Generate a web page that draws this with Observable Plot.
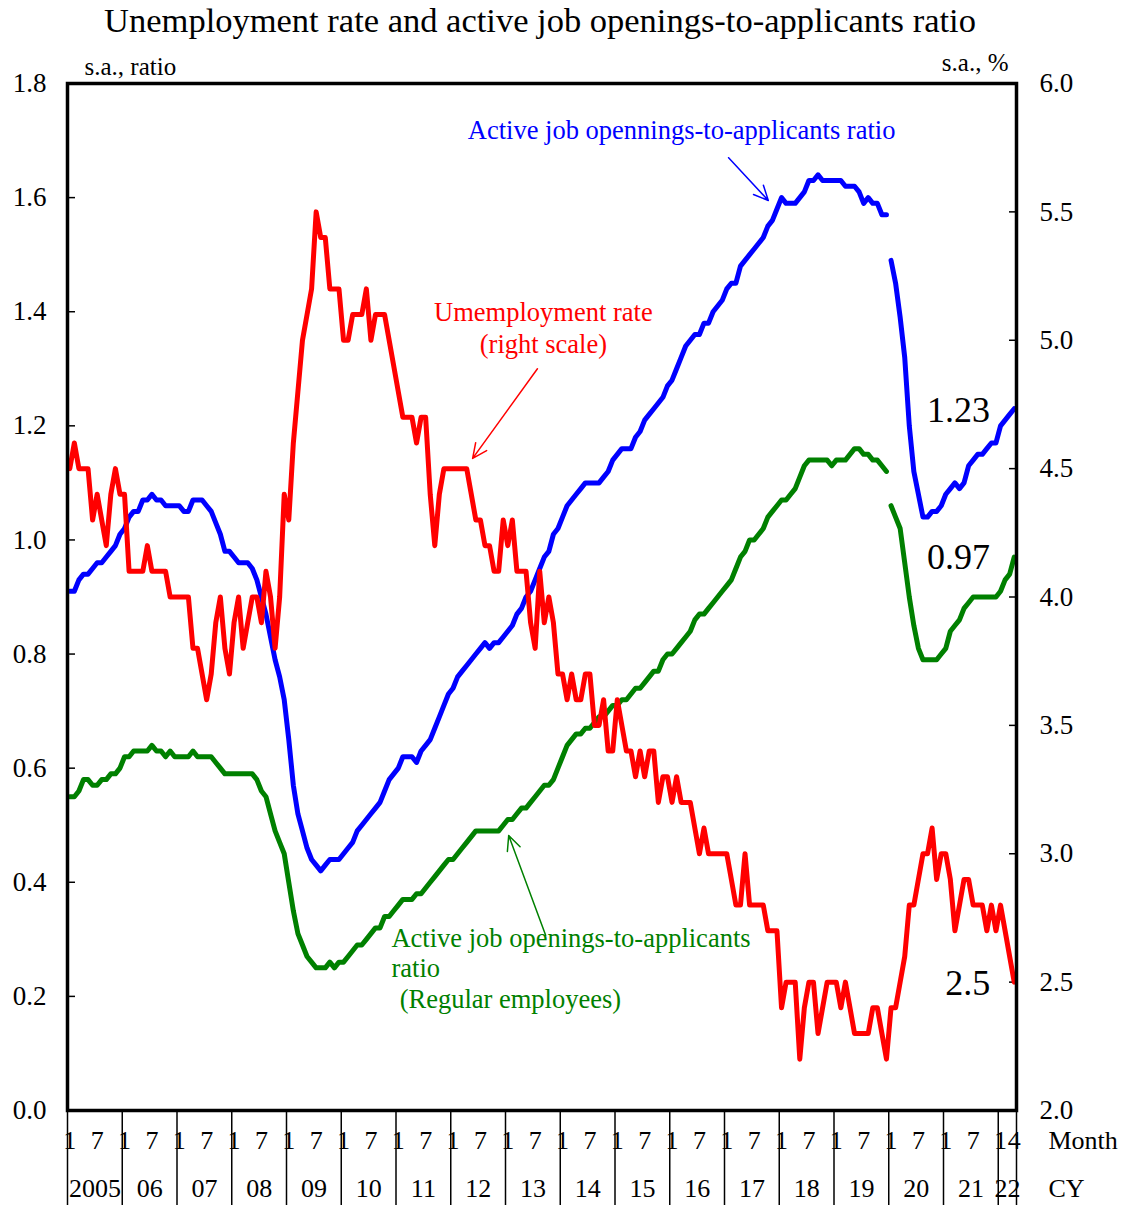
<!DOCTYPE html>
<html>
<head>
<meta charset="utf-8">
<script src="https://cdn.jsdelivr.net/npm/d3@7"></script>
<script src="https://cdn.jsdelivr.net/npm/@observablehq/plot@0.6"></script>
<style>
  html, body { margin: 0; padding: 0; background: #fff; }
  #title { width: 1080px; padding-right: 41px; height: 40px; line-height: 40px; text-align: center;
           font-family: "Liberation Serif", "Times New Roman", serif; font-size: 34.5px; color: #000; white-space: nowrap; }
  #chart svg { display: block; }
</style>
</head>
<body>
<div id="title">Unemployment rate and active job openings-to-applicants ratio</div>
<div id="chart"></div>
<script>
// ---------------- DATA (monthly, Jan 2005 – Apr 2022) ----------------
const startYear = 2005;
const breakIndex = 180; // series break between Dec 2019 and Jan 2020 (job-ratio series)

// Active job openings-to-applicants ratio (s.a., ratio)
const ratioAll = [
  .91,.91,.93,.94,.94,.95,.96,.96,.97,.98,.99,1.01,      // 2005
  1.02,1.04,1.05,1.05,1.07,1.07,1.08,1.07,1.07,1.06,1.06,1.06, // 2006
  1.06,1.05,1.05,1.07,1.07,1.07,1.06,1.05,1.03,1.01,.98,.98,   // 2007
  .97,.96,.96,.96,.95,.93,.90,.87,.83,.79,.76,.72,       // 2008
  .65,.57,.52,.49,.46,.44,.43,.42,.43,.44,.44,.44,       // 2009
  .45,.46,.47,.49,.50,.51,.52,.53,.54,.56,.58,.59,       // 2010
  .60,.62,.62,.62,.61,.63,.64,.65,.67,.69,.71,.73,       // 2011
  .74,.76,.77,.78,.79,.80,.81,.82,.81,.82,.82,.83,       // 2012
  .84,.85,.87,.88,.90,.91,.93,.95,.97,.98,1.01,1.02,     // 2013
  1.04,1.06,1.07,1.08,1.09,1.10,1.10,1.10,1.10,1.11,1.12,1.14, // 2014
  1.15,1.16,1.16,1.16,1.18,1.19,1.21,1.22,1.23,1.24,1.25,1.27, // 2015
  1.28,1.30,1.32,1.34,1.35,1.36,1.36,1.38,1.38,1.40,1.41,1.42, // 2016
  1.44,1.45,1.45,1.48,1.49,1.50,1.51,1.52,1.53,1.55,1.56,1.58, // 2017
  1.60,1.59,1.59,1.59,1.60,1.61,1.63,1.63,1.64,1.63,1.63,1.63, // 2018
  1.63,1.63,1.62,1.62,1.62,1.61,1.59,1.60,1.59,1.59,1.57,1.57, // 2019
  1.49,1.45,1.39,1.32,1.20,1.12,1.08,1.04,1.04,1.05,1.05,1.06, // 2020
  1.08,1.09,1.10,1.09,1.10,1.13,1.14,1.15,1.15,1.16,1.17,1.17, // 2021
  1.20,1.21,1.22,1.23                                      // 2022
];

// Active job openings-to-applicants ratio, regular employees (s.a., ratio)
const ratioRegular = [
  .55,.55,.56,.58,.58,.57,.57,.58,.58,.59,.59,.60,       // 2005
  .62,.62,.63,.63,.63,.63,.64,.63,.63,.62,.63,.62,       // 2006
  .62,.62,.62,.63,.62,.62,.62,.62,.61,.60,.59,.59,       // 2007
  .59,.59,.59,.59,.59,.58,.56,.55,.52,.49,.47,.45,       // 2008
  .40,.35,.31,.29,.27,.26,.25,.25,.25,.26,.25,.26,       // 2009
  .26,.27,.28,.29,.29,.30,.31,.32,.32,.34,.34,.35,       // 2010
  .36,.37,.37,.37,.38,.38,.39,.40,.41,.42,.43,.44,       // 2011
  .44,.45,.46,.47,.48,.49,.49,.49,.49,.49,.49,.50,       // 2012
  .51,.51,.52,.53,.53,.54,.55,.56,.57,.57,.58,.60,       // 2013
  .62,.64,.65,.66,.66,.67,.67,.68,.69,.69,.70,.71,       // 2014
  .71,.72,.72,.73,.74,.74,.75,.76,.77,.77,.79,.80,       // 2015
  .80,.81,.82,.83,.84,.86,.87,.87,.88,.89,.90,.91,       // 2016
  .92,.93,.95,.97,.98,1.00,1.00,1.01,1.02,1.04,1.05,1.06,   // 2017
  1.07,1.07,1.08,1.09,1.11,1.13,1.14,1.14,1.14,1.14,1.14,1.13, // 2018
  1.14,1.14,1.14,1.15,1.16,1.16,1.15,1.15,1.14,1.14,1.13,1.12, // 2019
  1.06,1.04,1.02,.96,.90,.85,.81,.79,.79,.79,.79,.80,    // 2020
  .81,.84,.85,.86,.88,.89,.90,.90,.90,.90,.90,.90,       // 2021
  .91,.93,.94,.97                                         // 2022
];

// Unemployment rate (s.a., %), right scale
const unemployment = [
  4.5,4.6,4.5,4.5,4.5,4.3,4.4,4.3,4.2,4.4,4.5,4.4, // 2005
  4.4,4.1,4.1,4.1,4.1,4.2,4.1,4.1,4.1,4.1,4.0,4.0, // 2006
  4.0,4.0,4.0,3.8,3.8,3.7,3.6,3.7,3.9,4.0,3.8,3.7, // 2007
  3.9,4.0,3.8,3.9,4.0,4.0,3.9,4.1,4.0,3.8,4.0,4.4, // 2008
  4.3,4.6,4.8,5.0,5.1,5.2,5.5,5.4,5.4,5.2,5.2,5.2, // 2009
  5.0,5.0,5.1,5.1,5.1,5.2,5.0,5.1,5.1,5.1,5.0,4.9, // 2010
  4.8,4.7,4.7,4.7,4.6,4.7,4.7,4.4,4.2,4.4,4.5,4.5, // 2011
  4.5,4.5,4.5,4.5,4.4,4.3,4.3,4.2,4.2,4.1,4.1,4.3, // 2012
  4.2,4.3,4.1,4.1,4.1,3.9,3.8,4.1,3.9,4.0,3.9,3.7, // 2013
  3.7,3.6,3.7,3.6,3.6,3.7,3.7,3.5,3.5,3.6,3.4,3.4, // 2014
  3.6,3.5,3.4,3.4,3.3,3.4,3.3,3.4,3.4,3.2,3.3,3.3, // 2015
  3.2,3.3,3.2,3.2,3.2,3.1,3.0,3.1,3.0,3.0,3.0,3.0, // 2016
  3.0,2.9,2.8,2.8,3.0,2.8,2.8,2.8,2.8,2.7,2.7,2.7, // 2017
  2.4,2.5,2.5,2.5,2.2,2.4,2.5,2.5,2.3,2.4,2.5,2.5, // 2018
  2.5,2.4,2.5,2.4,2.3,2.3,2.3,2.3,2.4,2.4,2.3,2.2, // 2019
  2.4,2.4,2.5,2.6,2.8,2.8,2.9,3.0,3.0,3.1,2.9,3.0, // 2020
  3.0,2.9,2.7,2.8,2.9,2.9,2.8,2.8,2.8,2.7,2.8,2.7, // 2021
  2.8,2.7,2.6,2.5                                   // 2022
];

// Axis tick values and labels
const leftTicks = [0, 0.2, 0.4, 0.6, 0.8, 1.0, 1.2, 1.4, 1.6, 1.8];
const rightTicks = [2.0, 2.5, 3.0, 3.5, 4.0, 4.5, 5.0, 5.5, 6.0];
const yearLabels = ["2005","06","07","08","09","10","11","12","13","14","15","16","17","18","19","20","21","22"];
const monthLabelsFull = ["1", "7"];       // months labelled in full years (Jan, Jul)
const monthLabelsLast = ["1", "4"];       // months labelled in the last (partial) year
const leftUnit = "s.a., ratio";
const rightUnit = "s.a., %";

// Annotations (data coordinates: month index, left-axis ratio)
const labelTexts = [
  {text: "Active job opennings-to-applicants ratio", x: 134.1, y: 1.717, color: "#0000ff", anchor: "middle", size: 26.5},
  {text: "Umemployment rate", x: 103.8, y: 1.399, color: "#ff0000", anchor: "middle", size: 26.5},
  {text: "(right scale)", x: 103.8, y: 1.342, color: "#ff0000", anchor: "middle", size: 26.5},
  {text: "Active job openings-to-applicants", x: 70.5, y: 0.301, color: "#008000", anchor: "start", size: 26.5},
  {text: "ratio", x: 70.5, y: 0.249, color: "#008000", anchor: "start", size: 26.5},
  {text: "(Regular employees)", x: 72.3, y: 0.194, color: "#008000", anchor: "start", size: 26.5},
  {text: "1.23", x: 194.8, y: 1.227, color: "#000", anchor: "middle", size: 36},
  {text: "0.97", x: 194.8, y: 0.969, color: "#000", anchor: "middle", size: 36},
  {text: "2.5", x: 196.8, y: 0.2226, color: "#000", anchor: "middle", size: 36}
];
const arrows = [
  {x1: 144.4, y1: 1.670, x2: 153.1, y2: 1.595, color: "#0000ff"},
  {x1: 102.5, y1: 1.300, x2: 88.3, y2: 1.143, color: "#ff0000"},
  {x1: 104.3, y1: 0.307, x2: 96.2, y2: 0.482, color: "#008000"}
];

// ---------------- BUILD ----------------
const nMonths = ratioAll.length;
const nYears = yearLabels.length;
const toLeft = d3.scaleLinear([2, 6], [0, 1.8]);   // unemployment % -> left ratio axis

const rows = d3.range(nMonths).map(i => ({
  i,
  all: ratioAll[i],
  regular: ratioRegular[i],
  unemp: unemployment[i],
  period: i < breakIndex ? "before" : "after"
}));

const monthTicks = [];
for (let y = 0; y < nYears; ++y) {
  const last = y === nYears - 1;
  const labels = last ? monthLabelsLast : monthLabelsFull;
  for (const m of labels) monthTicks.push({i: y * 12 + (+m - 1), label: m});
}
const yearBands = yearLabels.map((label, y) => {
  const a = y * 12 - 0.5, b = Math.min((y + 1) * 12, nMonths) - 0.5;
  return {label, center: (a + b) / 2};
});
const yearBounds = d3.range(nYears).map(y => y * 12 - 0.5).concat([nMonths - 0.5]);

const font = "'Liberation Serif', 'Times New Roman', serif";
const lineStyle = {strokeWidth: 5, strokeLinejoin: "round", strokeLinecap: "round"};
const axisFont = 27;
const periodFont = 26;

const chart = Plot.plot({
  width: 1121,
  height: 1165,
  marginTop: 43,
  marginBottom: 95,
  marginLeft: 67,
  marginRight: 105,
  style: {fontFamily: font, fontSize: "24px", color: "#000", background: "#fff", overflow: "visible"},
  x: {type: "linear", domain: [-0.5, nMonths - 0.5], axis: null},
  y: {domain: [0, 1.8], axis: null},
  marks: [
    // year separators below the frame
    Plot.axisX(yearBounds, {anchor: "bottom", tickSize: 95, text: null, strokeWidth: 1.5}),
    // left axis: inner ticks + labels
    Plot.axisY(leftTicks, {anchor: "left", tickSize: 8, dx: 8, text: null, strokeWidth: 1.5}),
    Plot.axisY(leftTicks, {anchor: "left", tickSize: 0, tickPadding: 21, tickFormat: d3.format(".1f"), fontSize: axisFont}),
    // right axis: inner ticks + labels (unemployment %)
    Plot.axisY(rightTicks.map(toLeft), {anchor: "right", tickSize: 8, dx: -8, text: null, strokeWidth: 1.5}),
    Plot.axisY(rightTicks.map(toLeft), {anchor: "right", tickSize: 0, tickPadding: 23,
      tickFormat: d => toLeft.invert(d).toFixed(1), fontSize: axisFont}),
    // month and year labels
    Plot.text(monthTicks, {x: "i", text: "label", frameAnchor: "bottom", dy: 30, lineAnchor: "middle", fontSize: periodFont}),
    Plot.text(yearBands, {x: "center", text: "label", frameAnchor: "bottom", dy: 78, lineAnchor: "middle", fontSize: periodFont}),
    Plot.text(["Month"], {frameAnchor: "bottom-right", dx: 32, dy: 30, textAnchor: "start", lineAnchor: "middle", fontSize: periodFont}),
    Plot.text(["CY"], {frameAnchor: "bottom-right", dx: 32, dy: 78, textAnchor: "start", lineAnchor: "middle", fontSize: periodFont}),
    Plot.text([leftUnit], {frameAnchor: "top-left", dx: 17, dy: -17, textAnchor: "start", lineAnchor: "middle", fontSize: 25}),
    Plot.text([rightUnit], {frameAnchor: "top-right", dx: -8, dy: -21, textAnchor: "end", lineAnchor: "middle", fontSize: 25}),
    // series
    Plot.line(rows, {x: "i", y: "all", z: "period", stroke: "#0000ff", ...lineStyle}),
    Plot.line(rows, {x: "i", y: "regular", z: "period", stroke: "#008000", ...lineStyle}),
    Plot.line(rows, {x: "i", y: d => toLeft(d.unemp), stroke: "#ff0000", ...lineStyle}),
    // annotations
    Plot.arrow(arrows, {x1: "x1", y1: "y1", x2: "x2", y2: "y2", stroke: "color", strokeWidth: 1.5, headLength: 16, headAngle: 50}),
    ...labelTexts.map(t => Plot.text([t], {x: "x", y: "y", text: "text", fill: t.color, textAnchor: t.anchor, fontSize: t.size})),
    // frame
    Plot.frame({stroke: "#000", strokeWidth: 3.5})
  ]
});
document.getElementById("chart").appendChild(chart);
</script>
</body>
</html>
